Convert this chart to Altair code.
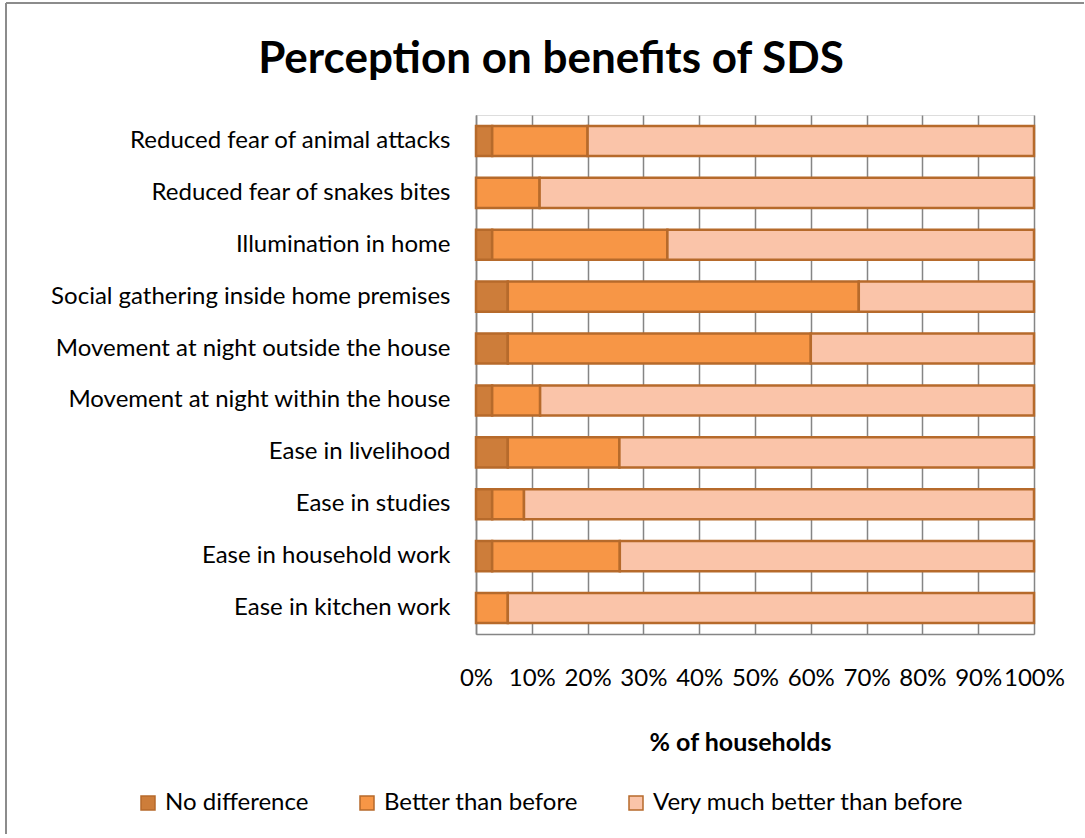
import altair as alt
import pandas as pd

# Activities, top to bottom
categories = [
    "Reduced fear of animal attacks",
    "Reduced fear of snakes bites",
    "Illumination in home",
    "Social gathering inside home premises",
    "Movement at night outside the house",
    "Movement at night within the house",
    "Ease in livelihood",
    "Ease in studies",
    "Ease in household work",
    "Ease in kitchen work",
]

series = ["No difference", "Better than before", "Very much better than before"]

# Share of households (%) per response
no_difference = [2.9, 0.0, 2.9, 5.7, 5.7, 2.9, 5.7, 2.9, 2.9, 0.0]
better = [17.1, 11.4, 31.4, 62.9, 54.3, 8.6, 20.0, 5.7, 22.9, 5.7]
very_much_better = [80.0, 88.6, 65.7, 31.4, 40.0, 88.6, 74.3, 91.4, 74.3, 94.3]

x_ticks = [0.0, 0.1, 0.2, 0.3, 0.4, 0.5, 0.6, 0.7, 0.8, 0.9, 1.0]

colors = ["#CD7D3A", "#F79646", "#FAC4A9"]
edge = "#B66A2B"
grid = "#858585"
font = "Lato"

rows = []
for i, cat in enumerate(categories):
    for j, vals in enumerate([no_difference, better, very_much_better]):
        if vals[i] > 0:
            rows.append({"activity": cat, "response": series[j], "rank": j, "pct": vals[i]})
df = pd.DataFrame(rows)

bars = alt.Chart(df).mark_bar(stroke=edge, strokeWidth=2.5).encode(
    y=alt.Y(
        "activity:N",
        sort=categories,
        scale=alt.Scale(paddingInner=0.42, paddingOuter=0.21),
        axis=alt.Axis(
            title=None, ticks=False, labelFont=font, labelFontSize=24,
            labelColor="#000000", labelPadding=26, labelLimit=600,
            domainColor=grid, domainWidth=1.5, grid=False,
        ),
    ),
    x=alt.X(
        "pct:Q",
        stack="normalize",
        scale=alt.Scale(domain=[0, 1], nice=False),
        axis=alt.Axis(
            title="%  of households", format=".0%", values=x_ticks,
            ticks=False, labelFont=font, labelFontSize=24, labelColor="#000000",
            labelPadding=32, labelOverlap=False, labelFlush=False,
            domainColor=grid, domainWidth=1.5,
            grid=True, gridColor=grid, gridWidth=1.5,
            titleFont=font, titleFontSize=25, titleFontWeight="bold",
            titleColor="#000000", titleX=264, titleY=116,
            titleBaseline="alphabetic", titleAlign="center",
        ),
    ),
    color=alt.Color(
        "response:N",
        sort=series,
        scale=alt.Scale(domain=series, range=colors),
        legend=alt.Legend(
            title=None, orient="none", direction="horizontal",
            legendX=-340, legendY=676,
            symbolType="square", symbolSize=196,
            symbolStrokeColor=edge, symbolStrokeWidth=1.5,
            labelFont=font, labelFontSize=24, labelColor="#000000",
            labelOffset=5, labelLimit=500, columnPadding=46,
        ),
    ),
    order=alt.Order("rank:Q"),
)

# Outer frame lines on the left and top edges of the figure
frame_data = pd.DataFrame({"edge": ["left", "top"]})
frame_left = alt.Chart(frame_data).transform_filter("datum.edge == 'left'").mark_rule(
    color="#8C8C8C", strokeWidth=2
).encode(x=alt.value(-470), y=alt.value(-112), y2=alt.value(723))
frame_top = alt.Chart(frame_data).transform_filter("datum.edge == 'top'").mark_rule(
    color="#8C8C8C", strokeWidth=2
).encode(x=alt.value(-470), x2=alt.value(609), y=alt.value(-112))

chart = alt.layer(bars, frame_left, frame_top).properties(
    width=558,
    height=519,
    autosize=alt.AutoSizeParams(type="none"),
    padding={"left": 476, "top": 115, "right": 50, "bottom": 200},
    title=alt.Title(
        "Perception on benefits of SDS", font=font, fontSize=44,
        fontWeight="bold", color="#000000", anchor="middle",
        dx=-204, dy=116, offset=36,
    ),
).configure_view(fill="#FDEFE9", stroke="transparent").configure(background="#FFFFFF")

chart.save("out.html", embed_options={"renderer": "svg", "actions": False})
